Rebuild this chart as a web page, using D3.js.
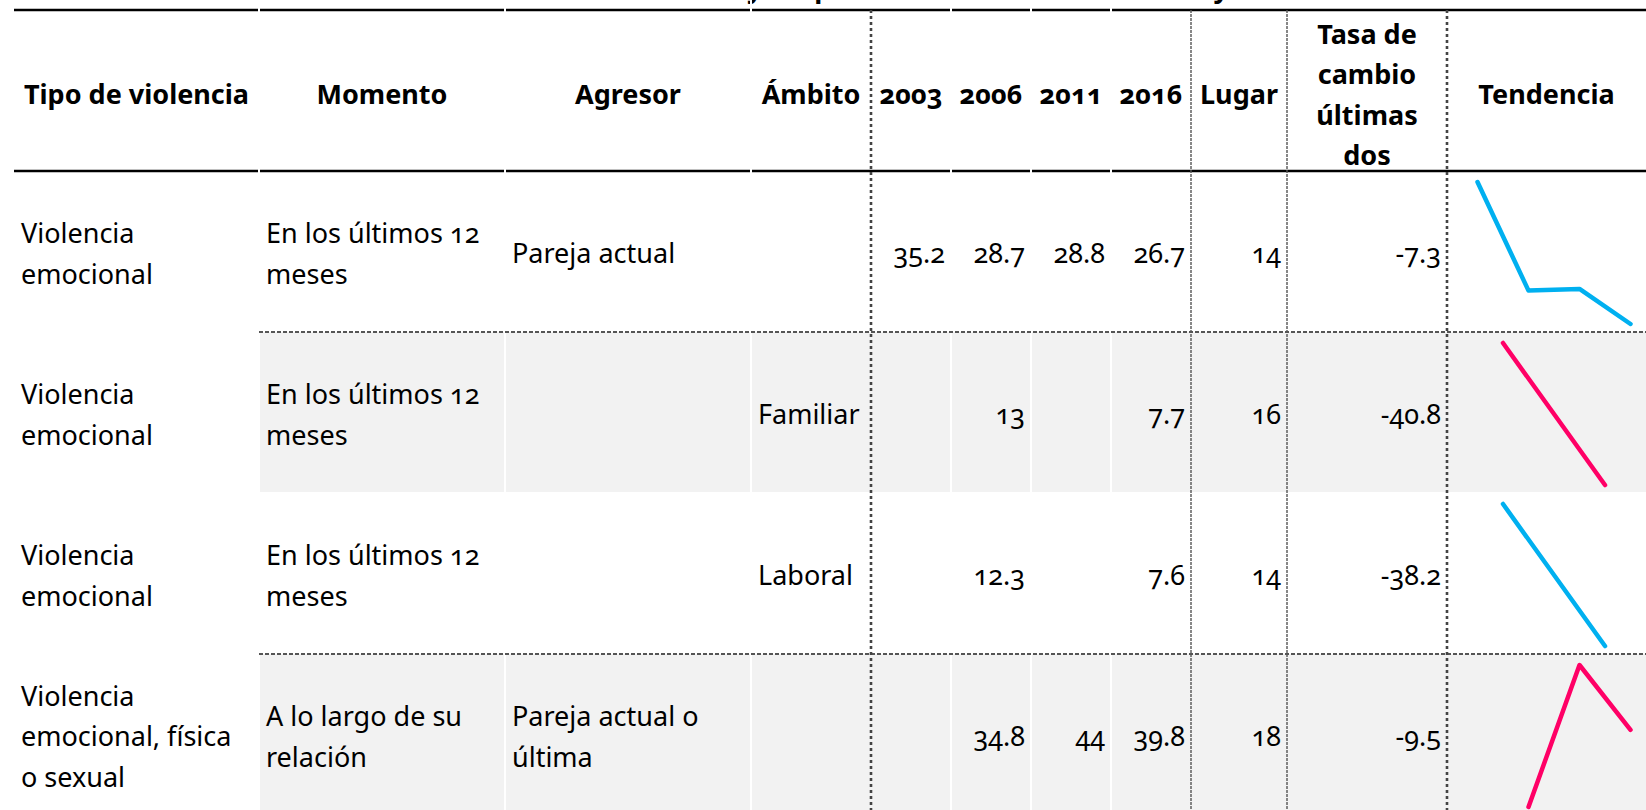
<!DOCTYPE html>
<html lang="es">
  <head>
    <meta charset="UTF-8" />
    <title>Indicadores de violencia</title>
    <script src="https://d3js.org/d3.v7.min.js"></script>
    <style>
      body {
        margin: 0;
        background: #fff;
      }
      svg {
        display: block;
        font-family: "Noto Sans", "Open Sans", sans-serif;
      }
      .cell {
        font-size: 27px;
        fill: #000;
        font-variant-numeric: oldstyle-nums;
        font-feature-settings: "onum" 1;
      }
      .head {
        font-weight: bold;
      }
    </style>
  </head>
  <body>
    <svg id="chart" width="1646" height="810"></svg>

    <script>
      const titulo =
        "Evolución de los indicadores de violencia y las posiciones a nivel nacional hoy";
      const headers = [
        "Tipo de violencia",
        "Momento",
        "Agresor",
        "Ámbito",
        "2003",
        "2006",
        "2011",
        "2016",
        "Lugar",
        "Tasa de\ncambio\núltimas\ndos",
        "Tendencia",
      ];
      const years = ["2003", "2006", "2011", "2016"];

      const tipos = [
        "Violencia\nemocional",
        "Violencia\nemocional",
        "Violencia\nemocional",
        "Violencia\nemocional, física\no sexual",
      ];
      const momentos = [
        "En los últimos 12\nmeses",
        "En los últimos 12\nmeses",
        "En los últimos 12\nmeses",
        "A lo largo de su\nrelación",
      ];
      const agresores = ["Pareja actual", "", "", "Pareja actual o\núltima"];
      const ambitos = ["", "Familiar", "Laboral", ""];
      const v2003 = [35.2, null, null, null];
      const v2006 = [28.7, 13, 12.3, 34.8];
      const v2011 = [28.8, null, null, 44];
      const v2016 = [26.7, 7.7, 7.6, 39.8];
      const lugar = [14, 16, 14, 18];
      const tasa = [-7.3, -40.8, -38.2, -9.5];
      // years each sparkline was built from
      const tendenciaAnios = [years, ["2006", "2016"], ["2006", "2016"], years];

      // layout
      const colEdges = [14, 259, 505, 751, 871, 951, 1031, 1111, 1191, 1287, 1447, 1660];
      const headTop = 10,
        headBottom = 171,
        rowH = 161;
      const fs = 27,
        lh = 40.5,
        pad = 6;

      const svg = d3.select("#chart");
      const nRows = tipos.length;
      const rowY = d3
        .scaleBand()
        .domain(d3.range(nRows))
        .range([headBottom, headBottom + rowH * nRows]);

      const yearVals = [v2003, v2006, v2011, v2016];
      const bodyCols = [tipos, momentos, agresores, ambitos, ...yearVals, lugar, tasa];

      function drawText(g, str, x, yc, anchor, cls) {
        const lines = String(str).split("\n");
        const t = g
          .append("text")
          .attr("class", cls)
          .attr("text-anchor", anchor);
        lines.forEach((ln, i) => {
          t.append("tspan")
            .attr("x", x)
            .attr("y", yc + 0.4 * fs + (i - (lines.length - 1) / 2) * lh)
            .text(ln);
        });
      }

      // grey rows (first column stays white)
      svg
        .selectAll(".band")
        .data(d3.range(nRows).filter((i) => i % 2 === 1))
        .enter()
        .append("rect")
        .attr("x", colEdges[1])
        .attr("y", (i) => rowY(i))
        .attr("width", 1646 - colEdges[1])
        .attr("height", rowY.bandwidth())
        .attr("fill", "#f2f2f2");

      // title (mostly cut off above the frame, as in the source)
      const title = svg
        .append("text")
        .attr("class", "cell head")
        .attr("y", -2)
        .text(titulo);
      const iy = titulo.indexOf(" y ") + 1;
      title.attr("x", 747 - title.node().getSubStringLength(0, iy));

      // header rules
      [headTop, headBottom].forEach((y) => {
        svg
          .append("line")
          .attr("x1", colEdges[0])
          .attr("x2", 1646)
          .attr("y1", y)
          .attr("y2", y)
          .attr("stroke", "#000")
          .attr("stroke-width", 2.6);
      });

      // white cell borders
      [1, 2, 3, 5, 6, 7].forEach((c) => {
        svg
          .append("line")
          .attr("x1", colEdges[c])
          .attr("x2", colEdges[c])
          .attr("y1", 0)
          .attr("y2", 810)
          .attr("stroke", "#fff")
          .attr("stroke-width", 2);
      });
      svg
        .append("line")
        .attr("x1", colEdges[1])
        .attr("x2", 1646)
        .attr("y1", rowY(2))
        .attr("y2", rowY(2))
        .attr("stroke", "#fff")
        .attr("stroke-width", 2);

      // dotted row separators
      [1, 3].forEach((i) => {
        svg
          .append("line")
          .attr("x1", colEdges[1])
          .attr("x2", 1646)
          .attr("y1", rowY(i))
          .attr("y2", rowY(i))
          .attr("stroke", "#555")
          .attr("stroke-width", 2)
          .attr("stroke-dasharray", "4,2");
      });

      // dotted column separators
      [4, 10].forEach((c) => {
        svg
          .append("line")
          .attr("x1", colEdges[c])
          .attr("x2", colEdges[c])
          .attr("y1", headTop)
          .attr("y2", 810)
          .attr("stroke", "#444")
          .attr("stroke-width", 2.6)
          .attr("stroke-dasharray", "3,3");
      });
      [8, 9].forEach((c) => {
        svg
          .append("line")
          .attr("x1", colEdges[c])
          .attr("x2", colEdges[c])
          .attr("y1", headTop)
          .attr("y2", 810)
          .attr("stroke", "#555")
          .attr("stroke-width", 1.4)
          .attr("stroke-dasharray", "3,1");
      });

      // header labels
      const gHead = svg.append("g");
      headers.forEach((h, c) => {
        const xc = c === 10 ? (colEdges[c] + 1646) / 2 : (colEdges[c] + colEdges[c + 1]) / 2;
        drawText(gHead, h, xc, (headTop + headBottom) / 2 + 3, "middle", "cell head");
      });

      // body cells
      const gBody = svg.append("g");
      bodyCols.forEach((col, c) => {
        const left = c < 4;
        col.forEach((v, i) => {
          if (v === null || v === "") return;
          const x = left ? colEdges[c] + pad + 1 : colEdges[c + 1] - pad;
          drawText(gBody, v, x, rowY(i) + rowY.bandwidth() / 2 + 1, left ? "start" : "end", "cell");
        });
      });

      // sparklines
      const color = d3.scaleOrdinal().domain([0, 1]).range(["#00b0f0", "#ff0066"]);
      d3.range(nRows).forEach((i) => {
        const dom = tendenciaAnios[i];
        const pts = dom.map((y) => ({ year: y, v: yearVals[years.indexOf(y)][i] }));
        const x = d3.scalePoint().domain(dom).range([1452, 1656]).padding(0.5);
        const ext = d3.extent(pts.filter((p) => p.v !== null), (p) => p.v);
        const top = rowY(i),
          bottom = rowY(i) + rowY.bandwidth();
        const y = d3.scaleLinear().domain(ext).range([bottom - 8, top + 11]);
        const line = d3
          .line()
          .defined((p) => p.v !== null)
          .x((p) => x(p.year))
          .y((p) => y(p.v));
        svg
          .append("path")
          .datum(pts)
          .attr("d", line)
          .attr("fill", "none")
          .attr("stroke", color(i % 2))
          .attr("stroke-width", 4.5)
          .attr("stroke-linejoin", "round")
          .attr("stroke-linecap", "round");
      });
    </script>
  </body>
</html>
